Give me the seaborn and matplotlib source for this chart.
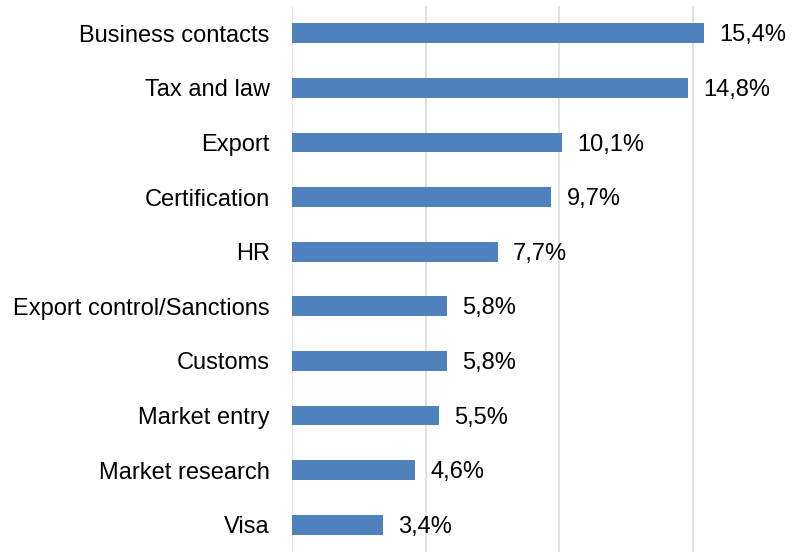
import matplotlib
matplotlib.use("Agg")
import matplotlib.pyplot as plt
import seaborn as sns
import pandas as pd

# --- data ---
topics = ["Business contacts", "Tax and law", "Export", "Certification", "HR",
          "Export control/Sanctions", "Customs", "Market entry",
          "Market research", "Visa"]
shares = [15.4, 14.8, 10.1, 9.7, 7.7, 5.8, 5.8, 5.5, 4.6, 3.4]

df = pd.DataFrame({"topic": topics, "share": shares})

sns.set_style("white")
plt.rcParams["font.family"] = ["Liberation Sans", "DejaVu Sans"]
plt.rcParams["text.color"] = "black"
plt.rcParams["ytick.color"] = "black"

fig = plt.figure(figsize=(7.94, 5.53), dpi=100)
ax = fig.add_axes([292 / 794, 1 - 552 / 553, 1 - 292 / 794, 546 / 553])

sns.barplot(data=df, x="share", y="topic", orient="h", color="#4F81BD",
            saturation=1, width=0.36, edgecolor="none", ax=ax)

ax.set_xlim(0, 18.78)
ax.set_ylim(9.5, -0.5)
ax.set_xticks([0, 5, 10, 15])
ax.xaxis.grid(True, color="#D9D9D9", linewidth=1.1)
ax.set_axisbelow(True)
ax.tick_params(axis="x", length=0, labelbottom=False)
ax.tick_params(axis="y", length=0, pad=16, labelsize=17, labelcolor="black")
ax.set_xlabel("")
ax.set_ylabel("")
for s in ax.spines.values():
    s.set_visible(False)

# value labels, comma decimal
for i, v in enumerate(shares):
    ax.annotate(f"{v:.1f}%".replace(".", ","), (v, i), xytext=(11, -1.5),
                textcoords="offset points", va="center", ha="left",
                fontsize=17, color="black", clip_on=False)

fig.savefig("out.png", dpi=100)
